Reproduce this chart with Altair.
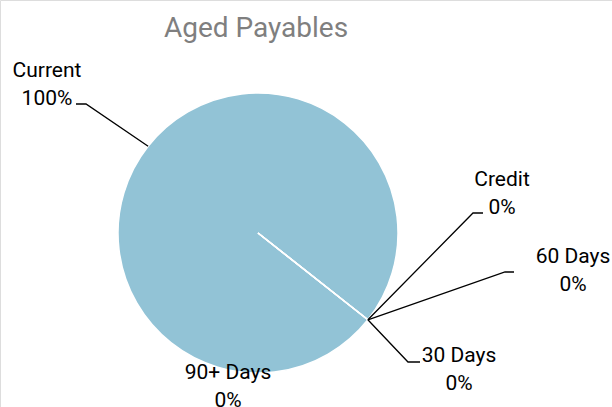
import math
import altair as alt
import pandas as pd

# ---- data ----
categories = ["Current", "30 Days", "60 Days", "90+ Days", "Credit"]
values = [100, 0, 0, 0, 0]
title_text = "Aged Payables"

# ---- layout (pixels) ----
W, H = 612, 407
CX, CY, R = 258, 233, 140
START_DEG = 128.3  # pie rotation (clockwise from 12 o'clock)
# label block: centre x, first-line baseline y
label_pos = {
    "Current": (47, 77),
    "30 Days": (459, 362),
    "60 Days": (573, 263),
    "90+ Days": (228, 379),
    "Credit": (502, 186),
}
# leader: elbow point and end point (None = no leader)
leader_pos = {
    "Current": [(86, 104), (76, 104)],
    "30 Days": [(408, 362), (420, 362)],
    "60 Days": [(505, 272), (514, 272)],
    "90+ Days": None,
    "Credit": [(473, 213), (483, 213)],
}

FONT = "Roboto"
PIE_COLOR = "#92C3D6"

total = sum(values)
start = math.radians(START_DEG)

pie_df = pd.DataFrame({"category": categories, "value": values, "idx": range(len(categories))})

# label table
lab_rows = []
line_rows = []
cum = 0.0
for i, (c, v) in enumerate(zip(categories, values)):
    frac = v / total
    mid = start + 2 * math.pi * (cum + frac / 2)
    cum += frac
    ax = CX + R * math.sin(mid)
    ay = CY - R * math.cos(mid)
    pct = f"{round(frac * 100)}%"
    lx, ly = label_pos[c]
    lab_rows.append({"category": c, "text": f"{c}\n{pct}", "x": lx, "y": ly})
    lp = leader_pos[c]
    if lp:
        pts = [(ax, ay)] + lp
        for k, (px, py) in enumerate(pts):
            line_rows.append({"category": c, "k": k, "x": px, "y": py})

lab_df = pd.DataFrame(lab_rows)
line_df = pd.DataFrame(line_rows)

xs = alt.Scale(domain=[0, W], range=[0, W])
ys = alt.Scale(domain=[0, H], range=[0, H])

pie = alt.Chart(pie_df).mark_arc(
    radius=R, stroke="white", strokeWidth=1.5
).encode(
    theta=alt.Theta("value:Q", stack=True,
                    scale=alt.Scale(range=[start, start + 2 * math.pi])),
    order=alt.Order("idx:Q"),
    x=alt.value(CX),
    y=alt.value(CY),
    color=alt.value(PIE_COLOR),
)

leaders = alt.Chart(line_df).mark_line(color="black", strokeWidth=1.3).encode(
    x=alt.X("x:Q", scale=xs, axis=None),
    y=alt.Y("y:Q", scale=ys, axis=None),
    detail="category:N",
    order="k:Q",
)

labels = alt.Chart(lab_df).mark_text(
    font=FONT, fontSize=21, color="black", align="center",
    baseline="alphabetic", lineBreak="\n", lineHeight=28,
).encode(
    x=alt.X("x:Q", scale=xs, axis=None),
    y=alt.Y("y:Q", scale=ys, axis=None),
    text="text:N",
)

title = alt.Chart(pd.DataFrame({"t": [title_text], "x": [256], "y": [37]})).mark_text(
    font=FONT, fontSize=28, color="#7F7F7F", align="center", baseline="alphabetic",
).encode(
    x=alt.X("x:Q", scale=xs, axis=None),
    y=alt.Y("y:Q", scale=ys, axis=None),
    text="t:N",
)

chart = alt.layer(pie, leaders, labels, title).properties(
    width=W, height=H, autosize=alt.AutoSizeParams(type="none"), padding=0,
).configure_view(stroke=None).configure(background="white")

chart.save("out.html", embed_options={"renderer": "svg", "actions": False})
